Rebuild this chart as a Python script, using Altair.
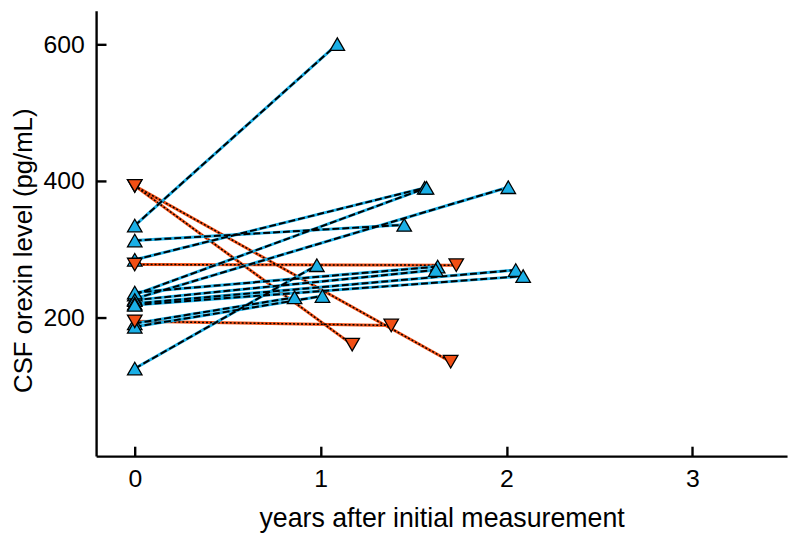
import altair as alt
import pandas as pd

# ---- data ----
patient = list(range(1, 17))
trend = ["increase"] * 12 + ["decrease"] * 4
level_initial = [335, 313, 285, 234, 228, 126, 192, 187, 237, 226, 221, 219,
                 393, 393, 278, 195]
years_followup = [1.09, 1.45, 1.56, 1.57, 2.01, 0.98, 0.86, 1.01, 1.63, 1.62, 2.05, 2.09,
                  1.17, 1.70, 1.73, 1.38]
level_followup = [600, 336, 390, 390, 391, 277, 230, 232, 275, 270, 270, 261,
                  161, 136, 277, 189]
x_ticks = [0, 1, 2, 3]
y_ticks = [200, 400, 600]

rows = []
for p, t, l0, yf, lf in zip(patient, trend, level_initial, years_followup, level_followup):
    rows.append({"patient": p, "trend": t, "years": 0.0, "level": l0})
    rows.append({"patient": p, "trend": t, "years": yf, "level": lf})
df = pd.DataFrame(rows)

BLUE = "#1aafe6"
RED = "#f24f14"
FONT = "Liberation Sans"
W, H = 698, 450

xscale = alt.Scale(domain=[-0.208, 3.51], nice=False, zero=False)
yscale = alt.Scale(domain=[-2, 649], nice=False, zero=False)

xaxis = alt.Axis(values=x_ticks, format="d", ticks=False, grid=False,
                 domainColor="black", domainWidth=2.4,
                 labelFont=FONT, labelFontSize=25, labelColor="black", labelPadding=11,
                 title="years after initial measurement", titleFont=FONT,
                 titleFontSize=27, titleFontWeight="normal", titleColor="black",
                 titlePadding=14)
yaxis = alt.Axis(values=y_ticks, format="d", ticks=False, grid=False,
                 domainColor="black", domainWidth=2.4,
                 labelFont=FONT, labelFontSize=25, labelColor="black", labelPadding=12,
                 title="CSF orexin level (pg/mL)", titleFont=FONT,
                 titleFontSize=26, titleFontWeight="normal", titleColor="black",
                 titlePadding=7, titleY=242)

X = alt.X("years:Q", scale=xscale, axis=xaxis)
Y = alt.Y("level:Q", scale=yscale, axis=yaxis)

base = alt.Chart(df)
dec = base.transform_filter(alt.datum.trend == "decrease")
inc = base.transform_filter(alt.datum.trend == "increase")

red_base = dec.mark_line(color=RED, strokeWidth=3).encode(x=X, y=Y, detail="patient:N")
red_dots = dec.mark_line(color="black", strokeWidth=1.5, strokeDash=[2, 2]).encode(
    x=X, y=Y, detail="patient:N")
blue_base = inc.mark_line(color=BLUE, strokeWidth=3).encode(x=X, y=Y, detail="patient:N")
blue_dash = inc.mark_line(color="black", strokeWidth=2, strokeDash=[7, 3]).encode(
    x=X, y=Y, detail="patient:N")

points = base.mark_point(filled=True, size=215, stroke="black", strokeWidth=1.3,
                         opacity=1).encode(
    x=X, y=Y,
    shape=alt.Shape("trend:N", scale=alt.Scale(domain=["increase", "decrease"],
                                               range=["triangle-up", "triangle-down"]),
                    legend=None),
    fill=alt.Fill("trend:N", scale=alt.Scale(domain=["increase", "decrease"],
                                             range=[BLUE, RED]), legend=None),
)

main = alt.layer(red_base, red_dots, blue_base, blue_dash, points)

# inward-pointing ticks via mirrored axes
tick_layer = base.mark_point(opacity=0).encode(
    x=alt.X("years:Q", scale=xscale,
            axis=alt.Axis(orient="top", offset=-H, values=x_ticks, labels=False,
                          domain=False, ticks=True, tickSize=10, tickWidth=2.4,
                          tickColor="black", grid=False, title="")),
    y=alt.Y("level:Q", scale=yscale,
            axis=alt.Axis(orient="right", offset=-W, values=y_ticks, labels=False,
                          domain=False, ticks=True, tickSize=10, tickWidth=2.4,
                          tickColor="black", grid=False, title="")),
)

chart = alt.layer(main, tick_layer).resolve_axis(
    x="independent", y="independent"
).properties(
    width=W, height=H,
    padding={"left": 89, "top": 0, "right": 5, "bottom": 78},
    autosize=alt.AutoSizeParams(type="none"),
).configure_view(stroke="transparent")

chart.save("out.html", embed_options={"renderer": "svg", "actions": False})
